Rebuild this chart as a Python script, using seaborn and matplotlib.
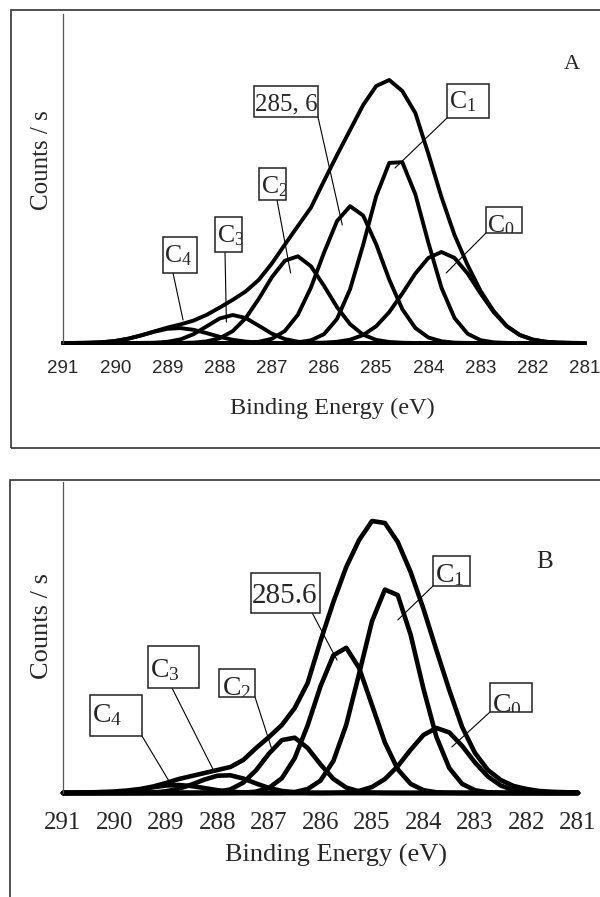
import matplotlib
matplotlib.use("Agg")
import matplotlib.pyplot as plt
import matplotlib.patches as mpatches
import seaborn as sns
import pandas as pd

# ---------------- data (counts in arbitrary units) ----------------
energy = [291.0, 290.75, 290.5, 290.25, 290.0, 289.75, 289.5, 289.25, 289.0, 288.75,
          288.5, 288.25, 288.0, 287.75, 287.5, 287.25, 287.0, 286.75, 286.5, 286.25,
          286.0, 285.75, 285.5, 285.25, 285.0, 284.75, 284.5, 284.25, 284.0, 283.75,
          283.5, 283.25, 283.0, 282.75, 282.5, 282.25, 282.0, 281.75, 281.5, 281.25, 281.0]
tick_labels = ["291", "290", "289", "288", "287", "286", "285", "284", "283", "282", "281"]

# Panel A
a_envelope = [0, 0.1, 0.3, 0.8, 2.0, 4.3, 7.7, 11.6, 15.4, 18.6,
              22.4, 28.1, 35.4, 43.1, 51.6, 63.1, 79.5, 98.4, 117.0, 135.4,
              162, 188, 213, 238, 257, 263, 252, 230, 189, 146,
              108, 78, 52, 32, 17, 8, 3.5, 1.3, 0.5, 0.2, 0]
a_c0 = [0, 0, 0, 0, 0, 0, 0, 0, 0, 0,
        0, 0, 0, 0, 0, 0, 0, 0, 0, 0.1,
        0.4, 1.2, 3.3, 8.0, 16.8, 30.9, 49.5, 69.5, 85.1, 91.0,
        85.1, 69.5, 49.5, 30.9, 16.8, 8.0, 3.3, 1.2, 0.4, 0.1, 0]
a_c1 = [0, 0, 0, 0, 0, 0, 0, 0, 0, 0,
        0, 0, 0, 0, 0, 0, 0, 0.1, 0.7, 2.7,
        8.8, 24.1, 53.8, 98.2, 146.9, 180.1, 180.8, 148.7, 100.2, 55.3,
        25.0, 9.3, 2.8, 0.7, 0.1, 0, 0, 0, 0, 0, 0]
a_p2856 = [0, 0, 0, 0, 0, 0, 0, 0, 0, 0,
           0, 0, 0, 0.1, 0.3, 1.2, 4.2, 12.0, 28.3, 55.5,
           90.3, 122.0, 136.8, 127.5, 98.7, 63.4, 33.8, 15.0, 5.5, 1.7,
           0.4, 0.1, 0, 0, 0, 0, 0, 0, 0, 0, 0]
a_c2 = [0, 0, 0, 0, 0, 0, 0, 0, 0, 0.1,
        0.4, 1.6, 4.7, 11.8, 24.9, 44.1, 65.7, 82.3, 86.7, 76.8,
        57.2, 35.8, 18.8, 8.3, 3.1, 1.0, 0.3, 0, 0, 0,
        0, 0, 0, 0, 0, 0, 0, 0, 0, 0, 0]
a_c3 = [0, 0, 0, 0, 0, 0, 0.1, 0.3, 1.2, 3.6,
        8.8, 16.6, 24.5, 28.0, 25.0, 17.3, 9.4, 3.9, 1.3, 0.3,
        0, 0, 0, 0, 0, 0, 0, 0, 0, 0,
        0, 0, 0, 0, 0, 0, 0, 0, 0, 0, 0]
a_c4 = [0, 0.1, 0.3, 0.8, 2.0, 4.3, 7.6, 11.3, 14.2, 14.9,
        13.2, 9.9, 6.2, 3.2, 1.4, 0.5, 0.2, 0, 0, 0,
        0, 0, 0, 0, 0, 0, 0, 0, 0, 0,
        0, 0, 0, 0, 0, 0, 0, 0, 0, 0, 0]

# Panel B
b_envelope = [0, 0.3, 0.6, 1.0, 1.5, 2.5, 4.0, 6.5, 10, 14,
              17, 20, 23, 26, 33, 45, 56, 68, 85, 110,
              152, 191, 226, 253, 272, 270, 251, 221, 184, 143,
              103, 66, 40, 23, 13, 7, 4, 2, 1.2, 0.8, 0.5]
b_c0 = [0, 0, 0, 0, 0, 0, 0, 0, 0, 0,
        0, 0, 0, 0, 0, 0, 0, 0, 0, 0,
        0, 0.2, 0.6, 2.1, 6.0, 13.9, 26.8, 43.2, 58.0, 65.0,
        60.6, 47.1, 30.5, 16.5, 7.5, 2.8, 0.9, 0.2, 0.1, 0, 0]
b_c1 = [0, 0, 0, 0, 0, 0, 0, 0, 0, 0,
        0, 0, 0, 0, 0, 0, 0, 0.2, 1.0, 3.9,
        12.4, 32.0, 68.2, 119.3, 171.8, 203.4, 197.9, 158.3, 104.1, 56.2,
        25.0, 9.1, 2.7, 0.7, 0.1, 0, 0, 0, 0, 0, 0]
b_p2856 = [0, 0, 0, 0, 0, 0, 0, 0, 0, 0,
           0, 0, 0, 0.1, 0.3, 1.4, 5.1, 14.8, 34.9, 67.6,
           106.7, 137.7, 145.2, 125.0, 87.9, 50.5, 23.7, 9.1, 2.8, 0.7,
           0.2, 0, 0, 0, 0, 0, 0, 0, 0, 0, 0]
b_c2 = [0, 0, 0, 0, 0, 0, 0, 0, 0, 0,
        0, 0.2, 1.0, 3.6, 10.3, 22.8, 39.4, 52.9, 55.3, 45.0,
        28.6, 14.1, 5.4, 1.6, 0.4, 0.1, 0, 0, 0, 0,
        0, 0, 0, 0, 0, 0, 0, 0, 0, 0, 0]
b_c3 = [0, 0, 0, 0, 0, 0, 0.1, 0.5, 1.7, 4.3,
        8.5, 13.5, 17.3, 17.7, 14.5, 9.5, 5.0, 2.1, 0.7, 0.2,
        0, 0, 0, 0, 0, 0, 0, 0, 0, 0,
        0, 0, 0, 0, 0, 0, 0, 0, 0, 0, 0]
b_c4 = [0, 0, 0.1, 0.25, 0.7, 1.8, 3.6, 5.7, 7.5, 8.0,
        6.9, 4.9, 2.8, 1.3, 0.5, 0.2, 0, 0, 0, 0,
        0, 0, 0, 0, 0, 0, 0, 0, 0, 0,
        0, 0, 0, 0, 0, 0, 0, 0, 0, 0, 0]

# ---------------- styling ----------------
sns.set_style("white")
plt.rcParams["font.family"] = ["Liberation Serif", "DejaVu Serif"]
plt.rcParams["mathtext.fontset"] = "custom"
plt.rcParams["mathtext.rm"] = "Liberation Serif"
plt.rcParams["mathtext.it"] = "Liberation Serif:italic"

W, H = 600, 897
fig = plt.figure(figsize=(W / 100, H / 100), dpi=100)
fig.patch.set_facecolor("white")


def fx(px):
    return px / W


def fy(py):
    return 1 - py / H


def long_df(series):
    rows = []
    for name, vals in series.items():
        for e, v in zip(energy, vals):
            rows.append((name, e, v))
    return pd.DataFrame(rows, columns=["curve", "energy", "counts"])


def draw_panel(ax, series, lw, ymax):
    df = long_df(series)
    pal = {k: "black" for k in series}
    sns.lineplot(data=df, x="energy", y="counts", hue="curve", palette=pal,
                 estimator=None, sort=False, legend=False, linewidth=lw, ax=ax)
    for ln in ax.lines:
        ln.set_clip_on(False)
        ln.set_solid_joinstyle("round")
        ln.set_solid_capstyle("round")
    ax.set_xlim(291, 281)
    ax.set_ylim(0, ymax)
    ax.set_xticks([float(t) for t in tick_labels])
    ax.set_xticklabels(tick_labels)
    ax.set_yticks([])
    for s in ("top", "right", "bottom"):
        ax.spines[s].set_visible(False)
    ax.spines["left"].set_color("#555555")
    ax.spines["left"].set_linewidth(0.9)
    ax.set_facecolor("none")


def frame(x0, y0, x1, y1, lw=1.2, ec="#333333"):
    r = mpatches.Rectangle((fx(x0), fy(y1)), (x1 - x0) / W, (y1 - y0) / H,
                           transform=fig.transFigure, fill=False, ec=ec, lw=lw)
    fig.add_artist(r)
    return r


def label_box(ax, box, text, tx, tbase, size, leader_start, target):
    x0, y0, x1, y1 = box
    r = mpatches.Rectangle((fx(x0), fy(y1)), (x1 - x0) / W, (y1 - y0) / H,
                           transform=fig.transFigure, fill=True, fc="white",
                           ec="#222222", lw=1.1, zorder=5)
    fig.add_artist(r)
    t = fig.text(fx(tx), fy(tbase), text, ha="left", va="baseline",
                 fontsize=size, zorder=6)
    t.set_clip_path(r)
    ax.annotate("", xy=target, xycoords="data",
                xytext=(leader_start[0], H - leader_start[1]),
                textcoords="figure pixels",
                arrowprops=dict(arrowstyle="-", lw=0.8, color="black",
                                shrinkA=0, shrinkB=0),
                annotation_clip=False, zorder=4)


# ---------------- panel A ----------------
A_RIGHT = 585
axA = fig.add_axes([fx(63), fy(343), (A_RIGHT - 63) / W, (343 - 14) / H])
draw_panel(axA, {"envelope": a_envelope, "C0": a_c0, "C1": a_c1, "285.6": a_p2856,
                 "C2": a_c2, "C3": a_c3, "C4": a_c4}, lw=2.8, ymax=329)
axA.tick_params(axis="x", direction="out", length=3, width=0.6, color="#888888",
                pad=9.5, labelsize=13.5)
for lbl in axA.get_xticklabels():
    lbl.set_fontfamily(["Liberation Sans", "DejaVu Sans"])
axA.set_xlabel("Binding Energy (eV)", fontsize=17.5)
axA.xaxis.label.set_va("center")
axA.xaxis.set_label_coords((332 - 63) / (A_RIGHT - 63), (343 - 408) / 329)
axA.set_ylabel("Counts / s", fontsize=18)
axA.yaxis.label.set_va("center")
axA.yaxis.set_label_coords((42 - 63) / (A_RIGHT - 63), (343 - 160) / 329)
frame(11, 10, 620, 448)
fig.text(fx(572), fy(69), "A", ha="center", va="baseline", fontsize=16)

label_box(axA, (254, 86, 318, 117), "285, 6", 255, 110, 18, (318, 117), (285.65, 118))
label_box(axA, (447, 84, 489, 118), r"C$_1$", 449, 108, 18.5, (447, 118), (284.64, 175))
label_box(axA, (259, 168, 286, 200), r"C$_2$", 261, 193, 18.5, (277, 200), (286.64, 70))
label_box(axA, (215, 217, 242, 252), r"C$_3$", 217, 242, 18.5, (225, 252), (287.87, 21))
label_box(axA, (163, 237, 197, 273), r"C$_4$", 164, 262, 18.5, (173, 273), (288.70, 23))
label_box(axA, (486, 207, 522, 233), r"C$_0$", 487, 232, 18.5, (486, 233), (283.66, 70))

# ---------------- panel B ----------------
axB = fig.add_axes([fx(63), fy(793), (578 - 63) / W, (793 - 482) / H])
draw_panel(axB, {"envelope": b_envelope, "C0": b_c0, "C1": b_c1, "285.6": b_p2856,
                 "C2": b_c2, "C3": b_c3, "C4": b_c4}, lw=3.3, ymax=311)
axB.tick_params(axis="x", direction="out", length=0, pad=14, labelsize=18)
axB.set_xlabel("Binding Energy (eV)", fontsize=19)
axB.xaxis.label.set_va("center")
axB.xaxis.set_label_coords((336 - 63) / 515, (793 - 855) / 311)
axB.set_ylabel("Counts / s", fontsize=19)
axB.yaxis.label.set_va("center")
axB.yaxis.set_label_coords((42 - 63) / 515, (793 - 626) / 311)
frame(10, 480, 620, 910)
fig.text(fx(545), fy(568), "B", ha="center", va="baseline", fontsize=18)

label_box(axB, (251, 573, 320, 613), "285.6", 252, 603, 21, (307, 603), (285.68, 133))
label_box(axB, (433, 556, 470, 586), r"C$_1$", 435, 582, 20, (433, 586), (284.50, 173))
label_box(axB, (490, 683, 532, 712), r"C$_0$", 492, 712, 20, (490, 712), (283.45, 46))
label_box(axB, (219, 669, 255, 697), r"C$_2$", 222, 695, 20, (255, 697), (286.94, 43))
label_box(axB, (148, 646, 199, 688), r"C$_3$", 150, 677, 20, (172, 688), (288.09, 24))
label_box(axB, (90, 695, 142, 736), r"C$_4$", 92, 722, 20, (142, 736), (288.92, 10))

fig.savefig("out.png", dpi=100, facecolor="white")
